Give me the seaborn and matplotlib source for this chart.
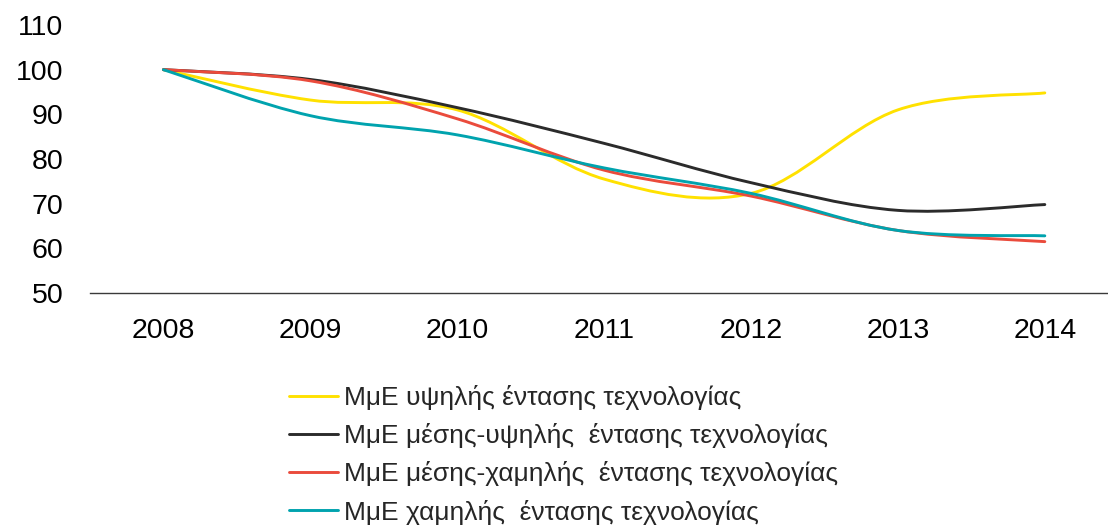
import numpy as np
import pandas as pd
import matplotlib
matplotlib.use('Agg')
import matplotlib.pyplot as plt
from matplotlib.path import Path
from matplotlib.patches import PathPatch
from matplotlib.lines import Line2D
import seaborn as sns

years = ['2008', '2009', '2010', '2011', '2012', '2013', '2014']
high_tech = [100, 93.2, 91.0, 75.5, 72.3, 91.0, 94.8]
med_high_tech = [100, 97.8, 91.5, 83.5, 74.7, 68.5, 69.8]
med_low_tech = [100, 97.5, 89.0, 77.5, 71.7, 64.0, 61.5]
low_tech = [100, 89.7, 85.4, 78.0, 72.3, 64.0, 62.8]

series_names = [
    'ΜμΕ υψηλής έντασης τεχνολογίας',
    'ΜμΕ μέσης-υψηλής  έντασης τεχνολογίας',
    'ΜμΕ μέσης-χαμηλής  έντασης τεχνολογίας',
    'ΜμΕ χαμηλής  έντασης τεχνολογίας',
]
colors = ['#FFE100', '#2B2B2B', '#EA4B3C', '#00A3AE']


def smooth_path(xs, ys):
    # cubic bezier through the points, like a spreadsheet "smoothed line"
    pts = np.column_stack([xs, ys])
    n = len(pts)
    verts = [pts[0]]
    codes = [Path.MOVETO]
    for i in range(n - 1):
        p0 = pts[max(i - 1, 0)]
        p1 = pts[i]
        p2 = pts[i + 1]
        p3 = pts[min(i + 2, n - 1)]
        c1 = p1 + (p2 - p0) / 6.0
        c2 = p2 - (p3 - p1) / 6.0
        verts += [c1, c2, p2]
        codes += [Path.CURVE4] * 3
    return Path(verts, codes)


def main():
    df = pd.DataFrame({'year': years * 4,
                       'value': high_tech + med_high_tech + med_low_tech + low_tech,
                       'series': sum([[s] * len(years) for s in series_names], [])})

    sns.set_style('white')
    plt.rcParams['font.family'] = ['Liberation Sans', 'DejaVu Sans']

    fig = plt.figure(figsize=(11.08, 5.29), dpi=100)
    ax = fig.add_axes([90 / 1108, 236 / 529, 1 - 90 / 1108, 268 / 529])

    sns.lineplot(data=df, x='year', y='value', hue='series', palette=colors,
                 sort=False, legend=False, ax=ax)

    # swap the straight segments for smoothed curves
    for line, c in zip(ax.lines, colors):
        xs = np.asarray(line.get_xdata(), dtype=float)
        ys = np.asarray(line.get_ydata(), dtype=float)
        ax.add_patch(PathPatch(smooth_path(xs, ys), facecolor='none',
                               edgecolor=c, lw=2.1, capstyle='round'))
        line.set_visible(False)

    ax.set_ylim(50, 110)
    ax.set_yticks(range(50, 111, 10))
    ax.set_xlim(-0.5, 6.43)
    ax.set_xlabel('')
    ax.set_ylabel('')
    ax.tick_params(axis='both', length=0, labelsize=20.5, colors='black')
    ax.tick_params(axis='y', pad=19)
    ax.tick_params(axis='x', pad=18)
    for side in ['top', 'right', 'left']:
        ax.spines[side].set_visible(False)
    ax.spines['bottom'].set_color('#3a3a3a')
    ax.spines['bottom'].set_linewidth(1.0)

    handles = [Line2D([], [], color=c, lw=2.1) for c in colors]
    fig.legend(handles, series_names, loc='upper left',
               bbox_to_anchor=(289 / 1108, 1 - 385 / 529), frameon=False,
               fontsize=19, handlelength=1.85, handletextpad=0.25,
               labelspacing=0.5, borderpad=0, borderaxespad=0)

    fig.savefig('out.png', dpi=100)


if __name__ == "__main__":
    main()
